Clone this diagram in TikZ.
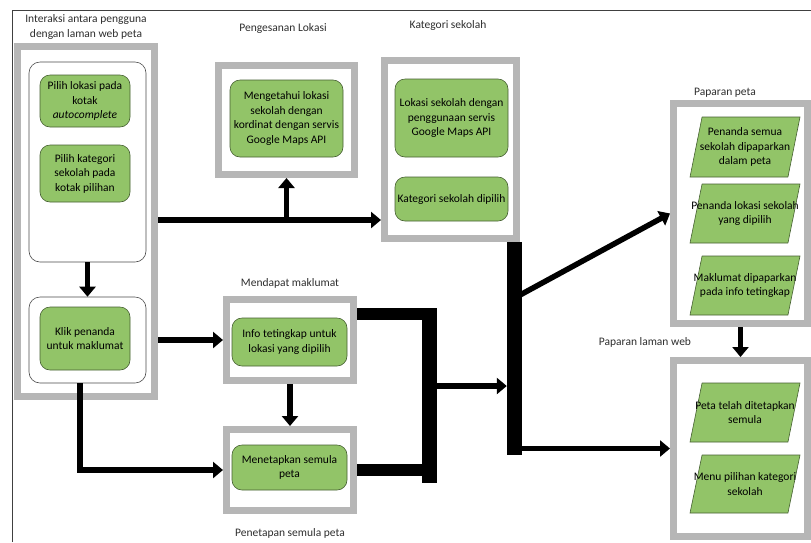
\documentclass[tikz,border=0pt]{standalone}
\usepackage{fontspec}
\setmainfont{Carlito}
\usetikzlibrary{shapes.geometric,arrows.meta}
\definecolor{boxgreen}{RGB}{146,196,104}
\definecolor{greenedge}{RGB}{70,96,50}
\definecolor{framegray}{RGB}{182,182,182}
\definecolor{titlegray}{RGB}{45,45,45}
\tikzstyle{groupbox} = [draw=framegray, fill=white, line width=7pt,
    rectangle, inner sep=0pt]
\tikzstyle{panel} = [draw=black!70, fill=white, line width=0.6pt,
    rectangle, rounded corners=11pt, inner sep=0pt]
\tikzstyle{task} = [draw=greenedge, fill=boxgreen, line width=0.6pt,
    rectangle, rounded corners=10pt, align=center, inner sep=0pt,
    font=\fontsize{11.5}{14.5}\selectfont]
\tikzstyle{screenbox} = [draw=greenedge, fill=boxgreen, line width=0.6pt,
    trapezium, trapezium left angle=82, trapezium right angle=98,
    trapezium stretches=true, inner sep=2pt]
\tikzstyle{screentext} = [align=center, inner sep=0pt,
    font=\fontsize{11.5}{14.5}\selectfont]
\tikzstyle{grouptitle} = [text=titlegray, align=center, inner sep=0pt,
    font=\fontsize{11.5}{15}\selectfont]
\tikzstyle{flow} = [line width=5.5pt, -{Triangle[length=10pt,width=16pt]}]
\tikzstyle{thickbar} = [line width=12pt]
\tikzstyle{junction} = [fill=black, rectangle, inner sep=0pt]

\begin{document}
\begin{tikzpicture}[x=1pt,y=-1pt]
\useasboundingbox (0,0) rectangle (811,542);
\draw[black!75, line width=0.8pt] (12,542) -- (12,10) -- (811,10);

% interaksi pengguna
\node[groupbox, minimum width=137, minimum height=350] (interaksi) at (86,221.5) {};
\node[panel, minimum width=117, minimum height=200] (pilihpanel) at (87.5,162) {};
\node[task, minimum width=90, minimum height=52] (pilihlokasi) at (85,101)
    {Pilih lokasi pada\\kotak\\\textit{autocomplete}};
\node[task, minimum width=90, minimum height=57] (pilihkategori) at (85,173.5)
    {Pilih kategori\\sekolah pada\\kotak pilihan};
\node[panel, minimum width=117, minimum height=86] (klikpanel) at (87.5,340) {};
\node[task, minimum width=90, minimum height=63] (klikpenanda) at (85,338.5)
    {Klik penanda\\untuk maklumat};
\node[grouptitle] (tinteraksi) at (86,27) {Interaksi antara pengguna\\dengan laman web peta};

% pengesanan lokasi
\node[groupbox, minimum width=136, minimum height=109] (pengesanan) at (286.5,120) {};
\node[task, minimum width=113, minimum height=77] (mengetahui) at (286.5,118.5)
    {Mengetahui lokasi\\sekolah dengan\\kordinat dengan servis\\Google Maps API};
\node[grouptitle] (tpengesanan) at (283,28) {Pengesanan Lokasi};

% kategori sekolah
\node[groupbox, minimum width=132, minimum height=178] (kategori) at (450.5,149.5) {};
\node[task, minimum width=113, minimum height=78] (lokasisekolah) at (451.5,118)
    {Lokasi sekolah dengan\\penggunaan servis\\Google Maps API};
\node[task, minimum width=113, minimum height=44] (kategoridipilih) at (451.5,199)
    {Kategori sekolah dipilih};
\node[grouptitle] (tkategori) at (448,25) {Kategori sekolah};

% mendapat maklumat
\node[groupbox, minimum width=127, minimum height=81] (mendapat) at (290,340) {};
\node[task, minimum width=115, minimum height=48] (infotetingkap) at (289.5,342)
    {Info tetingkap untuk\\lokasi yang dipilih};
\node[grouptitle] (tmendapat) at (290,283) {Mendapat maklumat};

% penetapan semula
\node[groupbox, minimum width=127, minimum height=81] (penetapan) at (290,470) {};
\node[task, minimum width=115, minimum height=45] (menetapkan) at (289.5,467.5)
    {Menetapkan semula\\peta};
\node[grouptitle] (tpenetapan) at (290,533) {Penetapan semula peta};

% paparan peta
\node[groupbox, minimum width=134, minimum height=220] (paparanpeta) at (740.5,213.5) {};
\node[screenbox, minimum width=110, minimum height=60,
    label={[screentext]center:Penanda semua\\sekolah dipaparkan\\dalam peta}] (penandasemua) at (745,147) {};
\node[screenbox, minimum width=110, minimum height=59,
    label={[screentext]center:Penanda lokasi sekolah\\yang dipilih}] (penandalokasi) at (745,213.5) {};
\node[screenbox, minimum width=110, minimum height=59,
    label={[screentext]center:Maklumat dipaparkan\\pada info tetingkap}] (maklumat) at (745,285.5) {};
\node[grouptitle] (tpeta) at (725,93) {Paparan peta};

% paparan laman web
\node[groupbox, minimum width=134, minimum height=176] (paparanweb) at (740.5,448.5) {};
\node[screenbox, minimum width=110, minimum height=59,
    label={[screentext]center:Peta telah ditetapkan\\semula}] (petasemula) at (745,412.5) {};
\node[screenbox, minimum width=110, minimum height=58,
    label={[screentext]center:Menu pilihan kategori\\sekolah}] (menupilihan) at (745,484) {};
\node[grouptitle] (tweb) at (645,342) {Paparan laman web};

% penyambung
\node[junction, minimum width=15, minimum height=175] (merge) at (429.5,395.5) {};
\node[junction, minimum width=15, minimum height=213] (hub) at (514.5,348.5) {};
\coordinate (branch) at (286.5,220);
\coordinate (elbow) at (80,470);
\coordinate (mout) at ([yshift=-18pt]mendapat.north east);
\coordinate (mergeout) at ([yshift=9.5pt]merge.east);
\coordinate (hubsplit) at ([yshift=50.5pt]hub.center);

\draw[flow] (pilihpanel.south) -- (klikpanel.north);
\draw[flow] (branch -| interaksi.east) -- (branch -| kategori.west);
\draw[flow] (branch) -- (branch |- pengesanan.south);
\draw[flow] (klikpanel.east -| interaksi.east) -- (mendapat.west);
\draw[flow] (elbow |- klikpanel.south) -- (elbow) -- (penetapan.west);
\draw[flow] (mendapat.south) -- (penetapan.north);
\draw[thickbar] (mout) -- (mout -| merge.east);
\draw[thickbar] (penetapan.east) -- (penetapan.east -| merge.east);
\draw[flow] (mergeout) -- (mergeout -| hub.west);
\draw[flow] (hubsplit) -- (paparanpeta.west);
\draw[flow] (paparanweb.west -| hub.east) -- (paparanweb.west);
\draw[flow] (paparanpeta.south) -- (paparanweb.north);
\end{tikzpicture}
\end{document}
